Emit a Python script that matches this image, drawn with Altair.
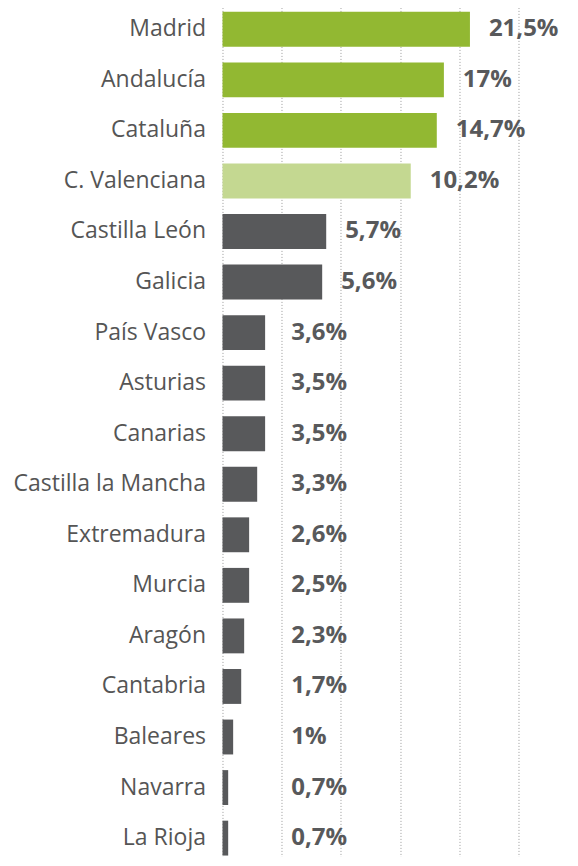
import altair as alt
import pandas as pd

regions = ["Madrid", "Andalucía", "Cataluña", "C. Valenciana", "Castilla León",
           "Galicia", "País Vasco", "Asturias", "Canarias", "Castilla la Mancha",
           "Extremadura", "Murcia", "Aragón", "Cantabria", "Baleares", "Navarra",
           "La Rioja"]
share_labels = ["21,5%", "17%", "14,7%", "10,2%", "5,7%", "5,6%", "3,6%", "3,5%",
                "3,5%", "3,3%", "2,6%", "2,5%", "2,3%", "1,7%", "1%", "0,7%", "0,7%"]
# bar lengths as drawn in the picture (grid lines every 5 units)
bar_len = [20.9, 18.7, 18.1, 15.9, 8.76, 8.42, 3.6, 3.6, 3.6, 2.93, 2.25, 2.25,
           1.83, 1.58, 0.9, 0.48, 0.48]
tier = ["top"] * 3 + ["mid"] + ["rest"] * 13
grid_values = [0, 5, 10, 15, 20, 25]

df = pd.DataFrame({"region": regions, "share": share_labels, "bar": bar_len, "tier": tier})

FONT = "Open Sans"
xscale = alt.Scale(domain=[0, 29.3], nice=False, zero=True)
yenc = alt.Y(
    "region:N", sort=regions,
    scale=alt.Scale(paddingInner=0.31, paddingOuter=0.155),
    axis=alt.Axis(title=None, ticks=False, domain=False, grid=False,
                  labelFont=FONT, labelFontSize=23, labelColor="#555555",
                  labelPadding=17, labelLimit=400),
)

bars = alt.Chart(df).mark_bar().encode(
    x=alt.X("bar:Q", scale=xscale,
            axis=alt.Axis(values=grid_values, labels=False, ticks=False, domain=False,
                          title=None, grid=True, gridDash=[1, 2], gridColor="#9a9a9a",
                          gridWidth=1)),
    y=yenc,
    color=alt.Color("tier:N", legend=None,
                    scale=alt.Scale(domain=["top", "mid", "rest"],
                                    range=["#92b832", "#c4d891", "#58595b"])),
)

text = alt.Chart(df).transform_calculate(
    lx="max(datum.bar + 1.6, 5.8)"
).mark_text(
    align="left", baseline="middle", font=FONT, fontWeight="bold",
    fontSize=24, color="#58595b"
).encode(
    x=alt.X("lx:Q", scale=xscale),
    y=yenc,
    text="share:N",
)

chart = (bars + text).properties(
    width=346.9,
    height=859.4,
    autosize=alt.AutoSizeParams(type="none"),
    padding={"left": 214.5, "top": -4, "right": 0, "bottom": -6},
).configure_view(stroke=None)

chart.save("out.html", embed_options={"renderer": "svg", "actions": False})
